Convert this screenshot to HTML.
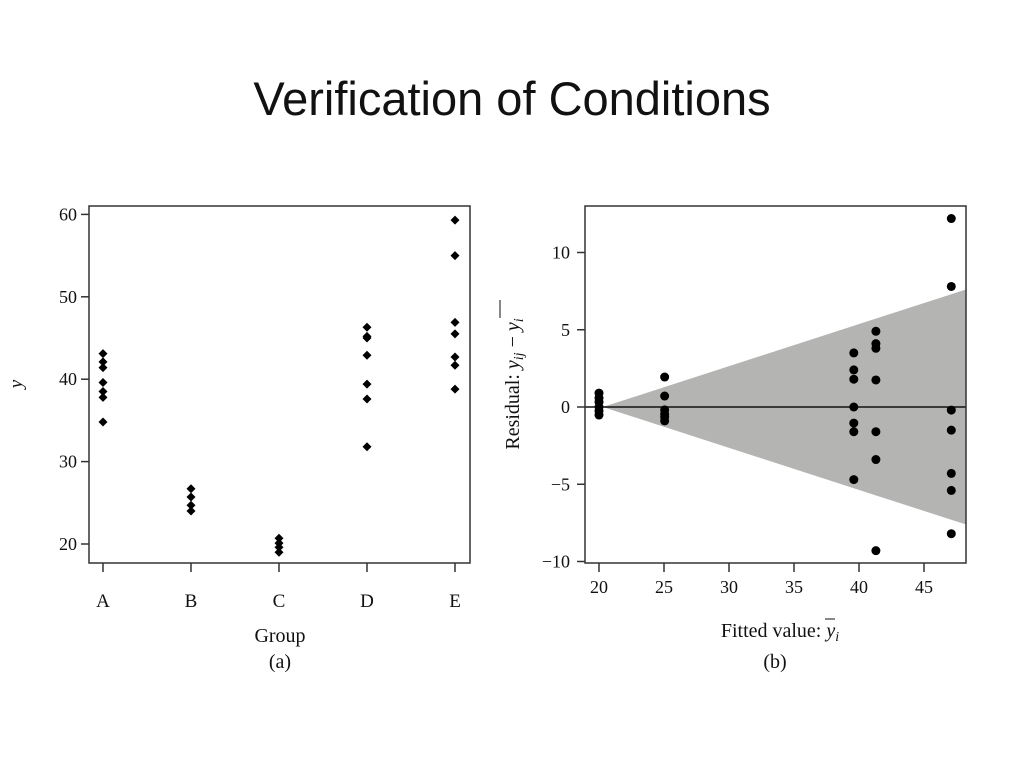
<!DOCTYPE html>
<html><head><meta charset="utf-8"><style>
body{margin:0;background:#fff;width:1024px;height:768px;overflow:hidden}
svg text{font-family:"Liberation Serif",serif;fill:#111}
</style></head><body>
<svg width="1024" height="768" viewBox="0 0 1024 768">
<text x="512" y="115" text-anchor="middle" style="font-family:'Liberation Sans',sans-serif;font-size:47px">Verification of Conditions</text>
<g id="left"></g>
<g id="right"></g>
</svg>
<script>
const groups=["A","B","C","D","E"];
const yA=[43.1,42.1,41.4,39.6,38.5,37.8,34.8];
const yB=[26.7,25.7,24.7,24.0];
const yC=[20.7,20.1,19.6,19.0];
const yD=[46.3,45.2,45.0,42.9,39.4,37.6,31.8];
const yE=[59.3,55.0,46.9,45.5,42.7,41.7,38.8];
const leftTicks=[20,30,40,50,60];
const fitted=[20.0,25.05,39.6,41.3,47.1];
const res20=[0.9,0.58,0.32,0,-0.26,-0.52];
const res25=[1.94,0.71,-0.19,-0.45,-0.65,-0.9];
const res396=[3.5,2.4,1.8,0,-1.04,-1.6,-4.7];
const res413=[4.9,4.1,3.8,1.75,-1.6,-3.4,-9.3];
const res471=[12.2,7.8,-0.2,-1.5,-4.3,-5.4,-8.2];
const rightXTicks=[20,25,30,35,40,45];
const rightYTicks=[-10,-5,0,5,10];
const bandApex=20.3, bandHalfAtEdge=7.6, bandEdge=48.2;

const NS="http://www.w3.org/2000/svg";
function mk(p,t,a){const e=document.createElementNS(NS,t);for(const k in a)e.setAttribute(k,a[k]);p.appendChild(e);return e;}

// Left
const L=document.getElementById('left');
const lx=i=>103+i*88, ly=v=>544-(v-20)*8.24;
const fr=mk(L,'rect',{x:89,y:206,width:381,height:357,fill:'none',stroke:'#333','stroke-width':1.5});


leftTicks.forEach(t=>{
 mk(L,'line',{x1:81,x2:89,y1:ly(t),y2:ly(t),stroke:'#333','stroke-width':1.5});
 const tx=mk(L,'text',{x:77,y:ly(t)+6,'text-anchor':'end','font-size':18});tx.textContent=t;
 
 
});
groups.forEach((g,i)=>{
 mk(L,'line',{x1:lx(i),x2:lx(i),y1:563,y2:572,stroke:'#333','stroke-width':1.5});
 const tx=mk(L,'text',{x:lx(i),y:607,'text-anchor':'middle','font-size':19});tx.textContent=g;
 
 
});
[yA,yB,yC,yD,yE].forEach((arr,i)=>arr.forEach(v=>{
 const x=lx(i),y=ly(v);
 const p=mk(L,'polygon',{points:`${x},${y-4.5} ${x+4.5},${y} ${x},${y+4.5} ${x-4.5},${y}`,fill:'#000'});
 
 
}));
let t;
t=mk(L,'text',{x:280,y:642,'text-anchor':'middle','font-size':20});t.textContent='Group';


t=mk(L,'text',{x:280,y:668,'text-anchor':'middle','font-size':20});t.textContent='(a)';


t=mk(L,'text',{x:22,y:384,'text-anchor':'middle','font-size':19,'font-style':'italic',transform:'rotate(-90 22 384)'});t.textContent='y';



// Right
const R=document.getElementById('right');
const rx=v=>599+(v-20)*13.0, ry=v=>407-v*15.45;
const bh=x=>(x-bandApex)/(bandEdge-bandApex)*bandHalfAtEdge;
const band=mk(R,'polygon',{points:`${rx(bandApex)},${ry(0)} ${rx(bandEdge)},${ry(bh(bandEdge))} ${rx(bandEdge)},${ry(-bh(bandEdge))}`,fill:'#b4b5b3'});


mk(R,'line',{x1:585,x2:966,y1:ry(0),y2:ry(0),stroke:'#111','stroke-width':1.5});
const fr2=mk(R,'rect',{x:585,y:206,width:381,height:357,fill:'none',stroke:'#333','stroke-width':1.5});


rightYTicks.forEach(v=>{
 mk(R,'line',{x1:577,x2:585,y1:ry(v),y2:ry(v),stroke:'#333','stroke-width':1.5});
 const tx=mk(R,'text',{x:570,y:ry(v)+6,'text-anchor':'end','font-size':18});tx.textContent=v<0?'\u2212'+(-v):v;
 
 
});
rightXTicks.forEach(v=>{
 mk(R,'line',{x1:rx(v),x2:rx(v),y1:563,y2:572,stroke:'#333','stroke-width':1.5});
 const tx=mk(R,'text',{x:rx(v),y:593,'text-anchor':'middle','font-size':18});tx.textContent=v;
 
 
});
[res20,res25,res396,res413,res471].forEach((arr,i)=>arr.forEach(v=>{
 const c=mk(R,'circle',{cx:rx(fitted[i]),cy:ry(v),r:4.5,fill:'#000'});
 
 
}));
t=mk(R,'text',{x:780,y:637,'text-anchor':'middle','font-size':20});
t.innerHTML='Fitted value: <tspan font-style="italic">y</tspan><tspan font-style="italic" font-size="14" dy="4">i</tspan>';


mk(R,'line',{x1:825,x2:835,y1:619,y2:619,stroke:'#111','stroke-width':1});
t=mk(R,'text',{x:775,y:668,'text-anchor':'middle','font-size':20});t.textContent='(b)';


t=mk(R,'text',{x:519,y:384,'text-anchor':'middle','font-size':20,transform:'rotate(-90 519 384)'});
t.innerHTML='Residual: <tspan font-style="italic">y</tspan><tspan font-style="italic" font-size="14" dy="4">ij</tspan><tspan dy="-4"> \u2212 </tspan><tspan font-style="italic">y</tspan><tspan font-style="italic" font-size="14" dy="4">i</tspan>';


mk(R,'line',{x1:500,x2:500,y1:300,y2:318,stroke:'#111','stroke-width':1});
</script>
</body></html>
